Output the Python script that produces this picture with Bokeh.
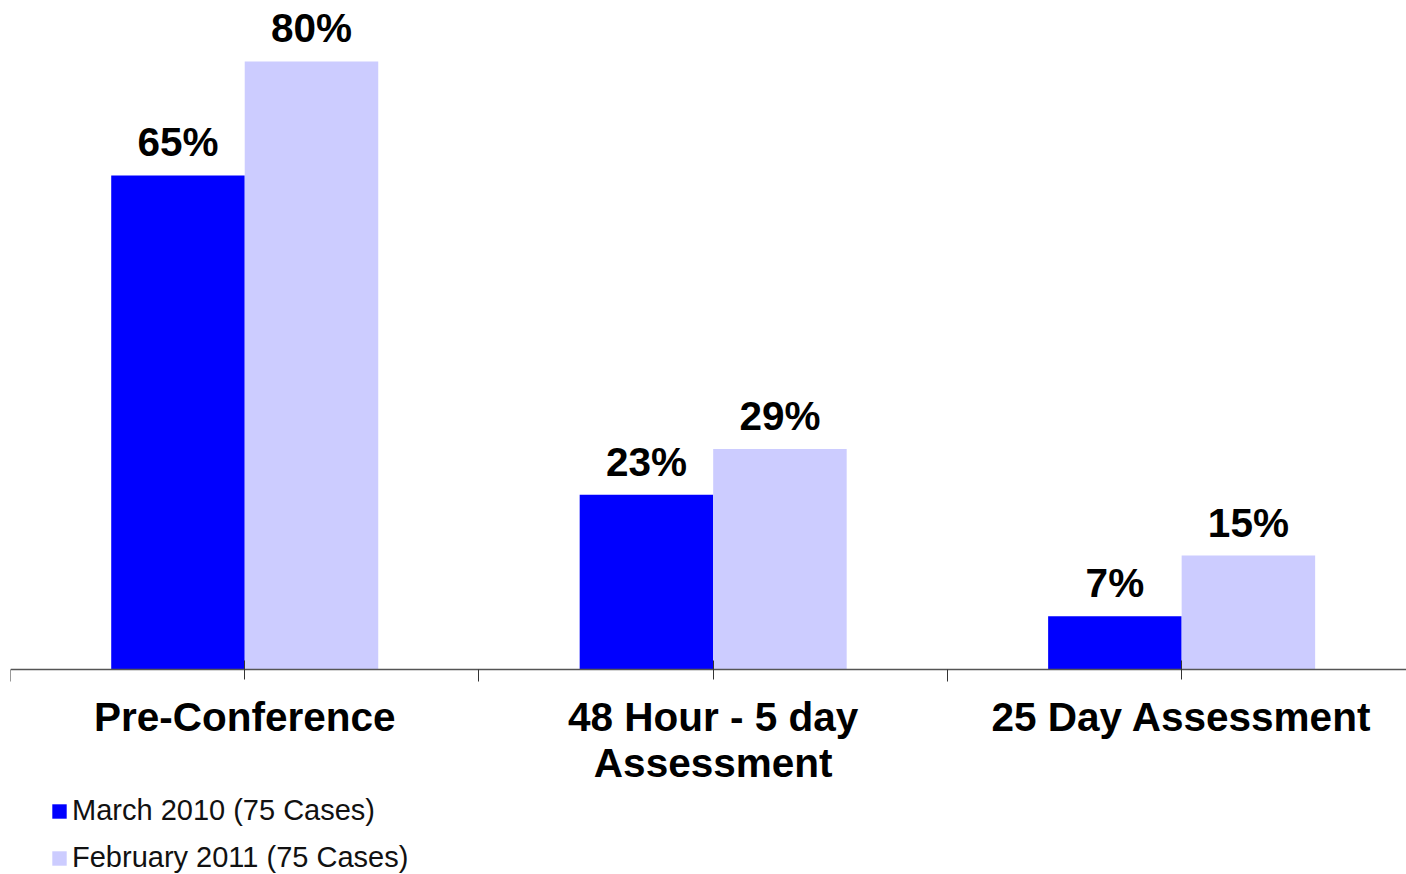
import numpy as np
from bokeh.plotting import figure
from bokeh.models import FixedTicker, Legend, LegendItem, ColumnDataSource, Range1d
from bokeh.core.properties import value
from bokeh.embed import file_html
from bokeh.resources import INLINE

categories = ["Pre-Conference", "48 Hour - 5 day\nAssessment", "25 Day Assessment"]
series_names = ["March 2010 (75 Cases)", "February 2011 (75 Cases)"]
march_2010 = [65, 23, 7]
february_2011 = [80, 29, 15]
colors = ["#0000FF", "#CCCCFF"]

centers = np.arange(len(categories)) + 0.5
bar_w = 0.285

p = figure(frame_width=1396, frame_height=866, output_backend="svg", toolbar_location=None,
           x_range=Range1d(0, 2.98), y_range=Range1d(-26.97, 86.97),
           min_border_left=10, min_border_right=0, min_border_top=8, min_border_bottom=0)
p.outline_line_color = None
p.xgrid.visible = False
p.ygrid.visible = False
p.yaxis.visible = False

renderers = []
for vals, off, col in [(march_2010, -bar_w / 2, colors[0]), (february_2011, bar_w / 2, colors[1])]:
    src = ColumnDataSource(dict(x=centers + off, top=vals, lab=[f"{v}%" for v in vals]))
    r = p.vbar(x="x", top="top", width=bar_w, bottom=0, source=src, fill_color=col, line_color=None)
    renderers.append(r)
    p.text(x="x", y="top", text="lab", source=src, text_align="center", text_baseline="alphabetic",
           y_offset=-33, text_font=value("Liberation Sans"), text_font_style="bold",
           text_font_size="40.5px", text_color="black")

ax = p.xaxis[0]
ax.fixed_location = 0
ax.ticker = FixedTicker(ticks=list(centers), minor_ticks=list(np.arange(len(categories) + 1)))
ax.major_label_overrides = {float(c): lab for c, lab in zip(centers, categories)}
ax.major_label_text_font = "Liberation Sans"
ax.major_label_text_font_style = "bold"
ax.major_label_text_font_size = "40.5px"
ax.major_label_text_color = "black"
ax.major_label_text_align = "center"
ax.major_label_text_line_height = 1.02
ax.major_label_standoff = 12
ax.axis_line_color = "#555555"
ax.axis_line_width = 1.5
ax.major_tick_in = 9
ax.major_tick_out = 10
ax.major_tick_line_color = "#333333"
ax.minor_tick_in = 0
ax.minor_tick_out = 12
ax.minor_tick_line_color = "#333333"

legend = Legend(items=[LegendItem(label=series_names[i], renderers=[renderers[i]]) for i in range(2)],
                orientation="vertical", location=(40, 0))
legend.label_text_font = "Liberation Sans"
legend.label_text_font_size = "29px"
legend.label_text_color = "#111111"
legend.glyph_width = 18
legend.glyph_height = 18
legend.label_standoff = 4
legend.label_height = 33
legend.spacing = 14
legend.padding = 0
legend.margin = 0
legend.border_line_color = None
legend.background_fill_alpha = 0
p.add_layout(legend, "center")

html = file_html(p, INLINE)
open("out.html", "w").write(html)
